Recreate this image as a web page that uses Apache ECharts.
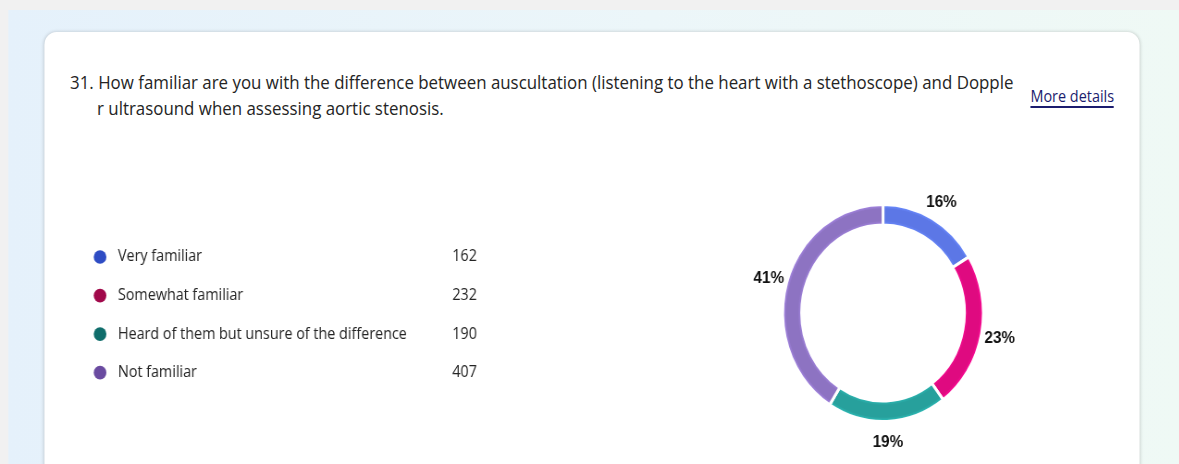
<!DOCTYPE html>
<html>
<head>
<meta charset="utf-8">
<title>Aortic stenosis survey - question 31</title>
<script src="https://cdn.jsdelivr.net/npm/echarts@6/dist/echarts.min.js"></script>
<style>
    html, body {
        margin: 0;
        padding: 0;
        width: 1179px;
        height: 464px;
        overflow: hidden;
        background: #f1f1f1;
    }
    /* the screenshot is squeezed horizontally, so lay out wider and squeeze */
    #page {
        position: absolute;
        left: 0;
        top: 0;
        width: 1275px;
        height: 464px;
        transform: scaleX(0.925);
        transform-origin: 0 0;
    }
    #pane {
        position: absolute;
        left: 8.6px;
        top: 10px;
        right: 0;
        bottom: 0;
        background: linear-gradient(90deg, #e5f1fb 0%, #ecf6f9 55%, #eff9f5 100%);
    }
    #card {
        position: absolute;
        left: 47.6px;
        top: 32px;
        width: 1184.8px;
        height: 470px;
        background: #fff;
        border-radius: 13px 13px 0 0;
        box-shadow: 0 0 4px rgba(0, 0, 0, 0.2);
    }
    #title {
        position: absolute;
        left: 75.7px;
        top: 69.1px;
        font: 18.25px/26px 'Open Sans', sans-serif;
        color: #242424;
        white-space: nowrap;
        padding-left: 29.2px;
        text-indent: -29.2px;
    }
    #more {
        position: absolute;
        left: 1114px;
        top: 85.5px;
        font: 15.6px/20px 'Open Sans', sans-serif;
        color: #1b1c6e;
        border-bottom: 2px solid #1b1c6e;
    }
    #chart {
        position: absolute;
        left: 0;
        top: 0;
        width: 1275px;
        height: 464px;
    }
</style>
</head>
<body>
<div id="page">
    <div id="pane"></div>
    <div id="card"></div>
    <div id="title">31. How familiar are you with the difference between auscultation (listening to the heart with a stethoscope) and Dopple<br>r ultrasound when assessing aortic stenosis.</div>
    <div id="more">More details</div>
    <div id="chart"></div>
</div>
<script>
    let categories = ['Very familiar', 'Somewhat familiar', 'Heard of them but unsure of the difference', 'Not familiar'];
    let counts = [162, 232, 190, 407];

    let slice_colors = ['#5c77e6', '#df0a80', '#27a09c', '#8d73c2'];
    let dot_colors = ['#2e4cc4', '#a1094b', '#0f6d6b', '#6a4ba0'];

    let total = 0;
    counts.forEach(function (c) {
        total = total + c;
    })

    let cx = 954.6;
    let cy = 313;

    var myChart = echarts.init(document.getElementById('chart'), null, {renderer: 'canvas'});

    function ringColor(color) {
        let edge = echarts.color.lift(color, -0.18);
        return {
            type: 'radial', x: cx, y: cy, r: 108.5, global: true,
            colorStops: [
                {offset: 0.81, color: edge},
                {offset: 0.85, color: color},
                {offset: 0.96, color: color},
                {offset: 0.99, color: edge}
            ]
        };
    }

    var option = {
        animation: false,
        legend: {
            orient: 'vertical',
            left: 101.3,
            top: 249,
            padding: 0,
            itemWidth: 13.7,
            itemHeight: 13.7,
            itemGap: 22.55,
            icon: 'circle',
            selectedMode: false,
            data: categories.map(function (name, i) {
                return {name: name, itemStyle: {color: dot_colors[i], borderWidth: 0}};
            }),
            formatter: function (name) {
                let i = categories.indexOf(name);
                return '{n|' + name + '}{c|' + counts[i] + '}';
            },
            textStyle: {
                color: '#242424',
                fontFamily: 'Open Sans',
                fontSize: 15.5,
                rich: {
                    n: {width: 358, padding: [0, 0, 0, 7.5], fontFamily: 'Open Sans', fontSize: 15.5, color: '#242424'},
                    c: {width: 30, align: 'right', fontFamily: 'Open Sans', fontSize: 15.5, color: '#242424'}
                }
            }
        },
        series: [
            {
                name: 'Responses',
                type: 'pie',
                center: [cx, cy],
                radius: [88, 108.5],
                startAngle: 90,
                clockwise: true,
                label: {show: false},
                labelLine: {show: false},
                emphasis: {disabled: true},
                itemStyle: {borderColor: '#fff', borderWidth: 3},
                data: categories.map(function (name, i) {
                    return {name: name, value: counts[i], itemStyle: {color: ringColor(slice_colors[i])}};
                })
            },
            {
                // transparent outer ring, only used to place the percent labels
                name: 'Percent',
                type: 'pie',
                center: [cx, cy],
                radius: [112, 139],
                startAngle: 90,
                clockwise: true,
                silent: true,
                itemStyle: {color: 'rgba(0,0,0,0)'},
                labelLine: {show: false},
                label: {
                    show: true,
                    position: 'inside',
                    offset: [0, 1],
                    color: '#111',
                    fontFamily: 'Liberation Sans',
                    fontWeight: 'bold',
                    fontSize: 16.5,
                    formatter: function (params) {
                        return Math.round(params.value / total * 100) + '%';
                    }
                },
                data: categories.map(function (name, i) {
                    return {name: name, value: counts[i]};
                })
            }
        ]
    };

    myChart.setOption(option);
</script>
</body>
</html>
